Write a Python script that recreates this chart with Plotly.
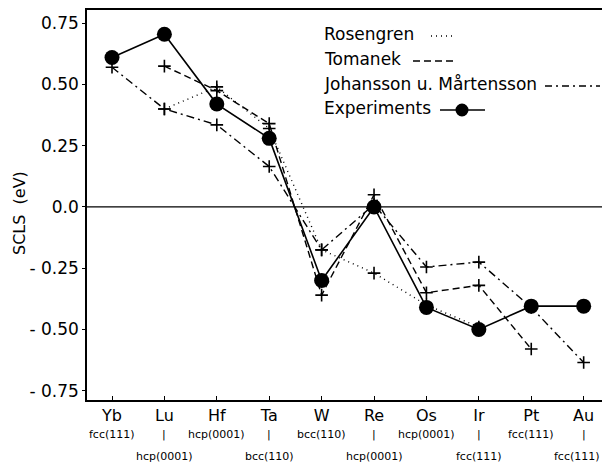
import plotly.graph_objects as go

elements = ["Yb", "Lu", "Hf", "Ta", "W", "Re", "Os", "Ir", "Pt", "Au"]
row1_labels = ["fcc(111)", "|", "hcp(0001)", "|", "bcc(110)", "|", "hcp(0001)", "|", "fcc(111)", "|"]
row2_labels = ["", "hcp(0001)", "", "bcc(110)", "", "hcp(0001)", "", "fcc(111)", "", "fcc(111)"]

rosengren = [None, 0.40, 0.49, 0.32, -0.175, -0.27, -0.40, -0.49, None, None]
tomanek = [None, 0.575, 0.475, 0.34, -0.36, 0.05, -0.35, -0.32, -0.58, None]
johansson = [0.57, 0.40, 0.335, 0.165, -0.175, 0.01, -0.245, -0.225, -0.41, -0.635]
experiments = [0.61, 0.705, 0.42, 0.28, -0.30, 0.0, -0.41, -0.50, -0.405, -0.405]

y_ticks = [0.75, 0.5, 0.25, 0.0, -0.25, -0.5, -0.75]
y_tick_text = ["0.75", "0.50", "0.25", "0.0", "- 0.25", "- 0.50", "- 0.75"]

FONT = "DejaVu Sans"
x = list(range(len(elements)))

fig = go.Figure()

def theory(vals, dash, name):
    fig.add_trace(go.Scatter(
        x=x, y=vals, mode="lines+markers", name=name,
        connectgaps=False,
        line=dict(color="black", width=1.4, dash=dash),
        marker=dict(symbol="cross-thin", size=9, line=dict(color="black", width=1.6)),
        showlegend=False))

theory(rosengren, "1px,4px", "Rosengren")
theory(tomanek, "7px,4px", "Tomanek")
theory(johansson, "8px,4px,2px,4px", "Johansson u. Mårtensson")

fig.add_trace(go.Scatter(
    x=x, y=experiments, mode="lines+markers", name="Experiments",
    line=dict(color="black", width=1.6),
    marker=dict(symbol="circle", size=15, color="black"),
    showlegend=False))

# zero line
fig.add_shape(type="line", xref="paper", yref="y", x0=0, x1=1, y0=0, y1=0,
              line=dict(color="black", width=1.3), layer="below")

L, R, T, B = 87, 602, 10, 400
def px(xp):
    return (xp - L) / (R - L)
def py(yp):
    return (B - yp) / (B - T)

SUBFONT = dict(family=FONT, size=11, color="black")
annotations = []
for i, t in enumerate(row1_labels):
    if t:
        annotations.append(dict(x=i, y=py(435), xref="x", yref="paper", yanchor="middle",
                                text=t, showarrow=False, font=SUBFONT))
for i, t in enumerate(row2_labels):
    if t:
        a = dict(x=i, y=py(457), xref="x", yref="paper", yanchor="middle",
                 text=t, showarrow=False, font=SUBFONT)
        if i == len(elements) - 1:
            a.update(x=px(602), xref="paper", xanchor="right")
        annotations.append(a)

# y-axis title
annotations.append(dict(x=px(20), y=py(213), xref="paper", yref="paper", text="SCLS  (eV)",
                        textangle=-90, showarrow=False, xanchor="center", yanchor="middle",
                        font=dict(family=FONT, size=16, color="black")))

# legend (text then sample line)
leg_names = ["Rosengren", "Tomanek", "Johansson u. Mårtensson", "Experiments"]
leg_y = [34, 59, 84, 108]
leg_x0 = [431, 413, 545, 440]
leg_x1 = [453, 455, 600, 485]
leg_dash = ["1px,4px", "7px,4px", "7px,4px,2px,4px", "solid"]

for n, yy, a, b, d in zip(leg_names, leg_y, leg_x0, leg_x1, leg_dash):
    annotations.append(dict(x=px(322), y=py(yy), xref="paper", yref="paper",
                            xanchor="left", yanchor="middle", text=n, showarrow=False,
                            font=dict(family=FONT, size=17, color="black")))
    fig.add_shape(type="line", xref="paper", yref="paper", x0=px(a), x1=px(b),
                  y0=py(yy + 2), y1=py(yy + 2), line=dict(color="black", width=1.4, dash=d))
fig.add_shape(type="circle", xref="paper", yref="paper",
              x0=px(462 - 6.5), x1=px(462 + 6.5), y0=py(110 - 6.5), y1=py(110 + 6.5),
              fillcolor="black", line=dict(color="black", width=0))

fig.update_layout(
    width=602, height=466,
    margin=dict(l=L, r=602 - R, t=T, b=466 - B),
    paper_bgcolor="white", plot_bgcolor="white",
    font=dict(family=FONT, size=14, color="black"),
    annotations=annotations,
    xaxis=dict(range=[-0.477, 9.35], tickmode="array", tickvals=x, ticktext=elements,
               showgrid=False, zeroline=False, showline=True, linecolor="black", linewidth=1.5,
               mirror=True, ticks="inside", ticklen=4, tickcolor="black",
               tickfont=dict(family=FONT, size=16, color="black")),
    yaxis=dict(range=[-0.788, 0.804], tickmode="array", tickvals=y_ticks, ticktext=y_tick_text,
               showgrid=False, zeroline=False, showline=True, linecolor="black", linewidth=1.5,
               ticks="outside", ticklen=3, tickcolor="black",
               tickfont=dict(family=FONT, size=17, color="black")),
)

fig.write_html("out.html")
